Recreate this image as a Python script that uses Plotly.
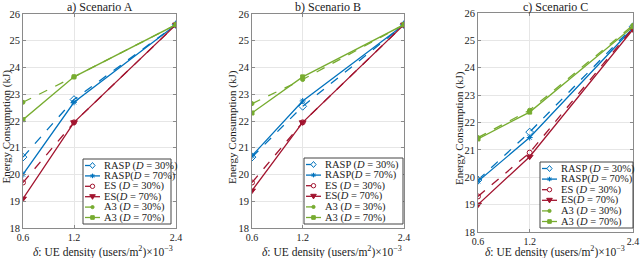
import plotly.graph_objects as go

x_vals = [0.6, 1.2, 2.4]
x_ticks = ["0.6", "1.2", "2.4"]
y_ticks = [18, 19, 20, 21, 22, 23, 24, 25, 26]

series_names = [
    "RASP (<i>D</i> = 30%)",
    "RASP(<i>D</i> = 70%)",
    "ES (<i>D</i> = 30%)",
    "ES(<i>D</i> = 70%)",
    "A3 (<i>D</i> = 30%)",
    "A3 (<i>D</i> = 70%)",
]

# Scenario A
a_rasp30 = [20.65, 22.8, 25.6]
a_rasp70 = [20.0, 22.7, 25.6]
a_es30 = [19.7, 21.95, 25.6]
a_es70 = [19.1, 21.95, 25.6]
a_a330 = [22.7, 23.65, 25.6]
a_a370 = [22.05, 23.65, 25.6]

# Scenario B
b_rasp30 = [20.65, 22.55, 25.6]
b_rasp70 = [20.7, 22.75, 25.6]
b_es30 = [19.7, 21.95, 25.6]
b_es70 = [19.4, 21.95, 25.6]
b_a330 = [22.65, 23.55, 25.6]
b_a370 = [22.3, 23.65, 25.6]

# Scenario C
c_rasp30 = [19.9, 21.65, 25.5]
c_rasp70 = [19.85, 21.45, 25.45]
c_es30 = [19.3, 20.9, 25.45]
c_es70 = [19.0, 20.75, 25.4]
c_a330 = [21.45, 22.45, 25.55]
c_a370 = [21.4, 22.38, 25.5]

titles = ["a) Scenario A", "b) Scenario B", "c) Scenario C"]
x_title = "<i>δ</i>: UE density (users/m<sup>2</sup>)×10<sup>−3</sup>"
y_title = "Energy Consumption (kJ)"

BLUE = "rgb(0,114,189)"
RED = "rgb(162,20,47)"
GREEN = "rgb(119,172,48)"

styles = [
    dict(color=BLUE, dash="dash", symbol="diamond-open", size=6),
    dict(color=BLUE, dash="solid", symbol="asterisk-open", size=5),
    dict(color=RED, dash="dash", symbol="circle-open", size=5),
    dict(color=RED, dash="solid", symbol="triangle-down", size=6),
    dict(color=GREEN, dash="dash", symbol="circle", size=4),
    dict(color=GREEN, dash="solid", symbol="square", size=4),
]

panels = [
    [a_rasp30, a_rasp70, a_es30, a_es70, a_a330, a_a370],
    [b_rasp30, b_rasp70, b_es30, b_es70, b_a330, b_a370],
    [c_rasp30, c_rasp70, c_es30, c_es70, c_a330, c_a370],
]

W, H = 640, 258
xdomains = [[23 / W, 176 / W], [252 / W, 404 / W], [478 / W, 633 / W]]
ydomains = [[30 / H, 244 / H], [30 / H, 244 / H], [26 / H, 245 / H]]
# legend boxes in pixels (left, top, right, bottom)
legend_boxes = [(83, 159, 171, 224), (304, 158, 403, 224), (540, 162, 633, 228)]
ytitle_x = [5.5, 232, 459]
ytitle_cy = [127, 127, 128]
xtitle_cx = [103, 332, 555]

FONT = "Liberation Serif"
TXT = "#222"


def px(x, y):
    return x / W, 1 - y / H


fig = go.Figure()
for p, data in enumerate(panels):
    sfx = "" if p == 0 else str(p + 1)
    for i, ys in enumerate(data):
        s = styles[i]
        fig.add_trace(go.Scatter(
            x=x_vals, y=ys, name=series_names[i], mode="lines+markers",
            line=dict(color=s["color"], dash=s["dash"], width=1.3),
            marker=dict(symbol=s["symbol"], size=s["size"], color=s["color"],
                        line=dict(color=s["color"], width=1)),
            xaxis="x" + sfx, yaxis="y" + sfx, showlegend=False,
        ))

shapes = []
annotations = []


def marker_shape(kind, cx, cy, color):
    r = 2.3
    out = []
    if kind == "diamond-open":
        pts = [(cx, cy - 3), (cx + 2.6, cy), (cx, cy + 3), (cx - 2.6, cy)]
        path = "M " + " L ".join(f"{px(a, b)[0]},{px(a, b)[1]}" for a, b in pts) + " Z"
        out.append(dict(type="path", path=path, xref="paper", yref="paper",
                        line=dict(color=color, width=1), fillcolor="white", layer="above"))
    elif kind == "asterisk-open":
        segs = [((cx - r, cy), (cx + r, cy)), ((cx, cy - r), (cx, cy + r)),
                ((cx - 1.7, cy - 1.7), (cx + 1.7, cy + 1.7)), ((cx - 1.7, cy + 1.7), (cx + 1.7, cy - 1.7))]
        for (a1, b1), (a2, b2) in segs:
            x0, y0 = px(a1, b1)
            x1, y1 = px(a2, b2)
            out.append(dict(type="line", x0=x0, y0=y0, x1=x1, y1=y1, xref="paper", yref="paper",
                            line=dict(color=color, width=1), layer="above"))
    elif kind in ("circle-open", "circle"):
        rr = 2.2 if kind == "circle-open" else 1.6
        x0, y0 = px(cx - rr, cy + rr)
        x1, y1 = px(cx + rr, cy - rr)
        out.append(dict(type="circle", x0=x0, y0=y0, x1=x1, y1=y1, xref="paper", yref="paper",
                        line=dict(color=color, width=1),
                        fillcolor="white" if kind == "circle-open" else color, layer="above"))
    elif kind == "triangle-down":
        pts = [(cx - 2.8, cy - 2), (cx + 2.8, cy - 2), (cx, cy + 2.6)]
        path = "M " + " L ".join(f"{px(a, b)[0]},{px(a, b)[1]}" for a, b in pts) + " Z"
        out.append(dict(type="path", path=path, xref="paper", yref="paper",
                        line=dict(color=color, width=1), fillcolor=color, layer="above"))
    elif kind == "square":
        x0, y0 = px(cx - 1.8, cy + 1.8)
        x1, y1 = px(cx + 1.8, cy - 1.8)
        out.append(dict(type="rect", x0=x0, y0=y0, x1=x1, y1=y1, xref="paper", yref="paper",
                        line=dict(color=color, width=1), fillcolor=color, layer="above"))
    return out


for p in range(3):
    L, T, R, B = legend_boxes[p]
    x0, y0 = px(L, B)
    x1, y1 = px(R, T)
    shapes.append(dict(type="rect", x0=x0, y0=y0, x1=x1, y1=y1, xref="paper", yref="paper",
                       fillcolor="white", line=dict(color="#444", width=1), layer="above"))
    step = (B - T - 13) / 5
    for i in range(6):
        s = styles[i]
        cy = T + 6.5 + step * i
        lx0, ly = px(L + 2, cy)
        lx1, _ = px(L + 17, cy)
        shapes.append(dict(type="line", x0=lx0, y0=ly, x1=lx1, y1=ly, xref="paper", yref="paper",
                           line=dict(color=s["color"], width=1.3,
                                     dash="dash" if s["dash"] == "dash" else "solid"),
                           layer="above"))
        shapes.extend(marker_shape(s["symbol"], L + 9.5, cy, s["color"]))
        tx, ty = px(L + 18.5, cy)
        annotations.append(dict(text=series_names[i], x=tx, y=ty, xref="paper", yref="paper",
                                xanchor="left", yanchor="middle", showarrow=False,
                                font=dict(family=FONT, size=10.5, color=TXT)))

layout = dict(
    width=W, height=H,
    margin=dict(l=0, r=0, t=0, b=0),
    paper_bgcolor="white", plot_bgcolor="white",
    font=dict(family=FONT, size=10, color=TXT),
    showlegend=False,
)

for p in range(3):
    sfx = "" if p == 0 else str(p + 1)
    layout["xaxis" + sfx] = dict(
        domain=xdomains[p], range=[0.6, 2.4], tickvals=x_vals, ticktext=x_ticks,
        showgrid=True, gridcolor="#e6e6e6", gridwidth=1,
        showline=True, linecolor="#8a8a8a", linewidth=1, mirror="ticks",
        ticks="inside", ticklen=3, tickcolor="#8a8a8a",
        tickfont=dict(family=FONT, size=10, color=TXT),
        anchor="y" + sfx, zeroline=False, automargin=False,
    )
    layout["yaxis" + sfx] = dict(
        domain=ydomains[p], range=[18, 26], tickvals=y_ticks,
        showgrid=True, gridcolor="#e6e6e6", gridwidth=1,
        showline=True, linecolor="#8a8a8a", linewidth=1, mirror="ticks",
        ticks="inside", ticklen=3, tickcolor="#8a8a8a",
        tickfont=dict(family=FONT, size=10.5, color=TXT),
        anchor="x" + sfx, zeroline=False, automargin=False,
    )
    cx = (xdomains[p][0] + xdomains[p][1]) / 2
    annotations.append(dict(text=titles[p], x=cx, y=px(0, 7)[1], xref="paper", yref="paper",
                            xanchor="center", yanchor="middle", showarrow=False,
                            font=dict(family=FONT, size=12, color=TXT)))
    annotations.append(dict(text=x_title, x=px(xtitle_cx[p], 0)[0], y=px(0, 251)[1],
                            xref="paper", yref="paper",
                            xanchor="center", yanchor="middle", showarrow=False,
                            font=dict(family=FONT, size=11.5, color=TXT)))
    annotations.append(dict(text=y_title, x=px(ytitle_x[p], 0)[0], y=px(0, ytitle_cy[p])[1],
                            xref="paper", yref="paper",
                            xanchor="center", yanchor="middle", showarrow=False, textangle=-90,
                            font=dict(family=FONT, size=11, color=TXT)))

layout["shapes"] = shapes
layout["annotations"] = annotations
fig.update_layout(**layout)
fig.write_html(
    "out.html",
    config={"displayModeBar": False},
    post_script="document.body.style.margin='0';document.body.style.padding='0';document.body.style.overflow='hidden';",
)
